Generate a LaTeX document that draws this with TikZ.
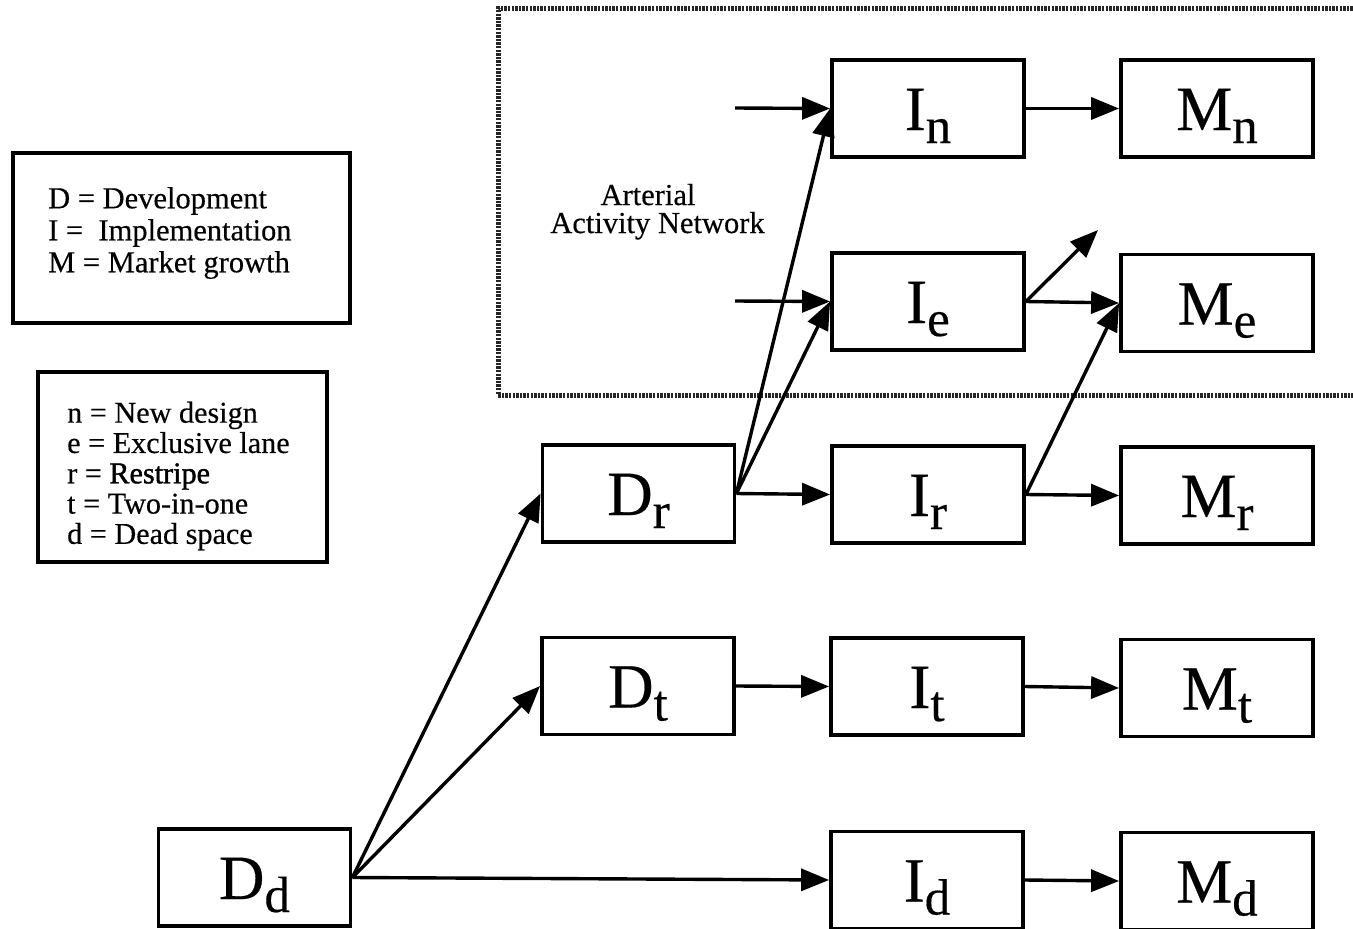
\documentclass[tikz,border=0pt]{standalone}
\usepackage{fontspec}
\setmainfont{Liberation Serif}[FakeBold=0.35]
\newfontfamily\heavyserif[FakeBold=1.3]{Liberation Serif}
\usetikzlibrary{arrows.meta}
\tikzset{
 blk/.style={draw, line width=3.8pt, minimum width=192pt, minimum height=97pt, inner sep=0pt, text height=43pt, text depth=0pt, font=\fontsize{63}{63}\selectfont},
 conn/.style={line width=3.4pt, -{Triangle[length=28pt,width=22pt]}},
 legbox/.style={draw, line width=4pt, inner sep=0pt},
 legtxt/.style={align=left, inner sep=0pt, anchor=west},
 arttxt/.style={inner sep=0pt, anchor=base, font=\fontsize{30.5}{30.5}\selectfont},
 dotframe/.style={line width=5pt, dash pattern=on 2.4pt off 1.2pt, black!85}
}
\newcommand{\bl}[2]{#1\raisebox{-13pt}{\fontsize{51}{51}\selectfont #2}}
\begin{document}
\begin{tikzpicture}[x=1pt,y=-1pt]
\useasboundingbox (0,0) rectangle (1353,929);
\fill[white] (0,0) rectangle (1353,929);

% dotted frame (open to the right)
\draw[dotframe] (1360,8) -- (498,8) -- (498,395) -- (1360,395);

% legends
\node[legbox, minimum width=337pt, minimum height=170pt] (leg1) at (181.5,238) {};
\node[legtxt, font=\fontsize{30.5}{32}\selectfont] (leg1t) at (48,233)
  {D = Development\\ I = \ Implementation\\ M = Market growth};
\node[legbox, minimum width=289pt, minimum height=190pt] (leg2) at (182.5,467) {};
\node[legtxt, font=\fontsize{30.2}{30.3}\selectfont] (leg2t) at (67,476)
  {n = New design\\ e = Exclusive lane\\ r = {\heavyserif Restripe}\\ t = Two-in-one\\ d = Dead space};

% arterial label
\node[arttxt] (art1) at (648,205) {Arterial};
\node[arttxt] (art2) at (657.5,233) {Activity Network};

% blocks
\node[blk] (In) at (928,108.5) {\bl{I}{n}};
\node[blk] (Mn) at (1217,108.5) {\bl{M}{n}};
\node[blk] (Ie) at (928,301.5) {\bl{I}{e}};
\node[blk] (Me) at (1217,303) {\bl{M}{e}};
\node[blk] (Dr) at (638.5,493.5) {\bl{D}{r}};
\node[blk] (Ir) at (928,494.5) {\bl{I}{r}};
\node[blk] (Mr) at (1217,495.5) {\bl{M}{r}};
\node[blk] (Dt) at (638,686) {\bl{D}{t}};
\node[blk] (It) at (927,686.5) {\bl{I}{t}};
\node[blk] (Mt) at (1217,688) {\bl{M}{t}};
\node[blk] (Dd) at (254.5,877.5) {\bl{D}{d}};
\node[blk] (Id) at (927,880) {\bl{I}{d}};
\node[blk] (Md) at (1217,881) {\bl{M}{d}};

% free ends
\coordinate (inN) at (735,108);
\coordinate (inE) at (735,301);
\coordinate (outE) at (1098,230);

% connectors
\draw[conn] (inN) -- (In.west);
\draw[conn] (inE) -- (Ie.west);
\draw[conn] (In.east) -- (Mn.west);
\draw[conn] (Ie.east) -- (Me.west);
\draw[conn] (Ie.east) -- (outE);
\draw[conn] (Dr.east) -- (In.west);
\draw[conn] (Dr.east) -- (Ie.west);
\draw[conn] (Dr.east) -- (Ir.west);
\draw[conn] (Ir.east) -- (Me.west);
\draw[conn] (Ir.east) -- (Mr.west);
\draw[conn] (Dt.east) -- (It.west);
\draw[conn] (It.east) -- (Mt.west);
\draw[conn] (Dd.east) -- (Dr.west);
\draw[conn] (Dd.east) -- (Dt.west);
\draw[conn] (Dd.east) -- (Id.west);
\draw[conn] (Id.east) -- (Md.west);
\end{tikzpicture}
\end{document}
